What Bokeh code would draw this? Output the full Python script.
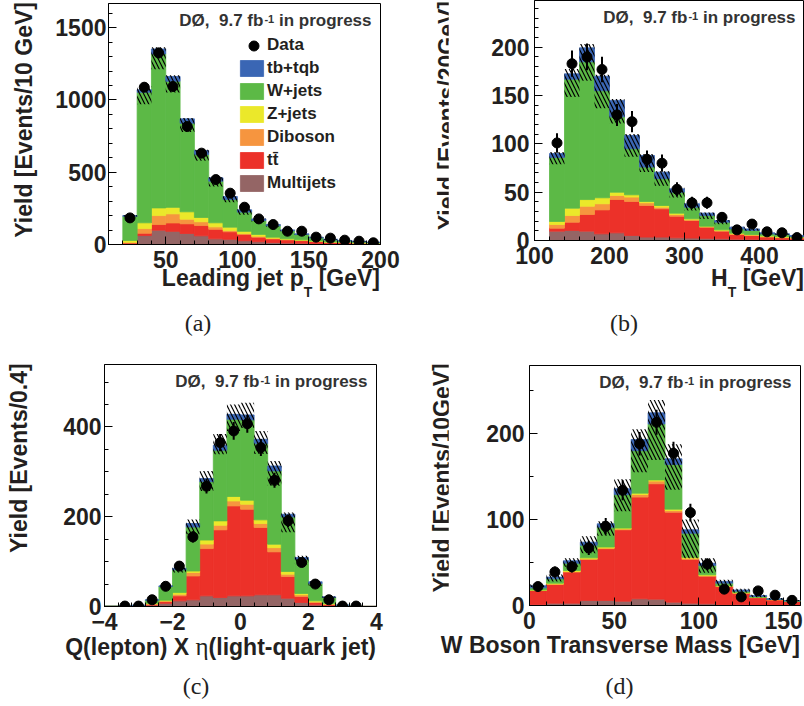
import numpy as np
from bokeh.plotting import figure
from bokeh.models import Range1d, SingleIntervalTicker, Label, Legend, LegendItem, ColumnDataSource, Div
from bokeh.layouts import row, column
from bokeh.embed import file_html
from bokeh.resources import INLINE

# ---------------- data ----------------
STACK_NAMES = ["Multijets", "tt\u0304", "Diboson", "Z+jets", "W+jets", "tb+tqb"]
STACK_COLORS = ["#946565", "#ec3129", "#f6953f", "#ebe82a", "#5cb946", "#3a66b4"]

# (a) leading jet pT, 10 GeV bins from 20 to 200
A_EDGES = list(range(20, 201, 10))
A_MJ = [5, 62, 99, 91, 76, 60, 39, 36, 26, 19, 14, 11, 9, 6, 4, 3, 2, 2]
A_TT = [5, 16, 39, 58, 67, 71, 66, 52, 44, 32, 25, 21, 18, 16, 12, 11, 9, 7]
A_DB = [5, 32, 62, 63, 32, 26, 17, 9, 6, 6, 4, 3, 2, 1, 1, 0.5, 0.5, 0.5]
A_ZJ = [13, 40, 53, 45, 51, 30, 28, 23, 15, 13, 8, 4, 3, 1, 1, 0.5, 0.5, 0.5]
A_WJ = [167, 903, 1065, 872, 613, 435, 288, 191, 133, 96, 78, 56, 37, 22, 14, 10, 8, 4]
A_TB = [5, 17, 35, 33, 30, 28, 23, 21, 16, 11, 9, 6, 5, 5, 5, 3, 3, 2]
A_DATA = [184, 1088, 1325, 1093, 816, 632, 449, 355, 258, 177, 138, 92, 92, 51, 44, 30, 23, 12]
A_UP = [3, 25, 12, 8, 6, 5, 4, 3, 3, 2, 2, 2, 1, 1, 1, 1, 1, 1]
A_DN = [8, 100, 140, 110, 90, 70, 60, 40, 35, 22, 15, 10, 7, 5, 4, 3, 2, 2]

# (b) HT, 20 GeV bins from 120 to 460
B_EDGES = list(range(120, 461, 20))
B_MJ = [9.7, 10.4, 9.7, 6.9, 7.9, 5.2, 3.5, 3.5, 2.8, 2.5, 2.2, 1.8, 1.4, 1.2, 1.0, 0.8, 0.6]
B_TT = [3.1, 8.6, 17.2, 24.8, 34.5, 35.2, 32.7, 29.3, 22.4, 18.2, 11.6, 7.9, 4.8, 4.0, 2.5, 2.0, 1.8]
B_DB = [3.8, 6.9, 8.6, 6.3, 4.2, 4.5, 2.8, 1.7, 1.7, 0.8, 0.5, 0.6, 0.7, 0.5, 0.6, 0.6, 0.5]
B_ZJ = [3.1, 7.6, 6.9, 6.2, 3.4, 2.4, 1.4, 1.7, 1.4, 0.9, 0.5, 0.7, 0.7, 0.5, 0.7, 0.7, 0.6]
B_WJ = [66.3, 133.5, 142.6, 110.8, 78.0, 47.7, 35.6, 27.8, 21.7, 12.1, 11.2, 8.0, 4.4, 4.2, 2.2, 2.1, 0.6]
B_TB = [4.0, 5.5, 14.4, 15.0, 17.0, 13.7, 12.0, 6.7, 3.5, 3.5, 2.3, 1.7, 1.8, 1.6, 1.0, 0.8, 1.1]
B_DATA = [101, 183, 190, 177, 130, 123, 84, 80, 53, 39, 39, 24, 11, 17, 9, 8, 3]
B_UP = [1.5, 5, 4, 1.5, 1.5, 1.5, 1.5, 1, 1, 1, 0.8, 0.6, 0.5, 0.5, 0.4, 0.3, 0.3]
B_DN = [11, 24, 34, 33, 24, 22, 17, 14, 9, 7, 6, 4, 2.5, 2, 1.5, 1.2, 1]

# (c) Q(lepton) x eta(light-quark jet), 0.4 bins from -4 to 4
C_EDGES = [round(-4 + 0.4 * i, 1) for i in range(21)]
C_MJ = [0.2, 0.5, 1, 3, 7, 12.6, 14.8, 23.7, 20, 23.7, 23.7, 26, 26, 18.5, 8.9, 3.7, 2, 0.5, 0.2, 0.1]
C_TT = [0.1, 0.2, 0.5, 2, 4, 11.1, 53.2, 105.3, 150.7, 200.3, 193, 149.9, 95.7, 48.3, 13.4, 5.2, 3, 0.5, 0.1, 0]
C_DB = [0, 0.1, 0.2, 1, 1.5, 3.8, 7.7, 10, 10.3, 11, 11.1, 8.9, 9.3, 5.2, 3.7, 1.6, 0.5, 0.1, 0, 0]
C_ZJ = [0.1, 0.1, 0.3, 1, 1.5, 3.5, 3.3, 9, 9.7, 10, 8.9, 8.2, 7.8, 6, 3, 2.1, 1, 0.1, 0.1, 0]
C_WJ = [0.1, 0.3, 0.5, 7, 30.5, 50.6, 98, 130, 157.3, 172, 178.8, 169.8, 163.2, 121.6, 76, 38.4, 13.5, 1.6, 0.1, 0.1]
C_TB = [0, 0.1, 0.1, 0.8, 1.5, 3.4, 7.8, 7, 11, 11, 11.2, 9.7, 11, 5.9, 4, 4, 1.5, 0.2, 0, 0]
C_DATA = [0, 1, 1, 15, 45, 90, 155, 268, 365, 391, 407, 354, 281, 191, 98, 50, 15, 1, 1, 0]
C_UP = [0, 0, 0, 0.5, 1, 2, 9, 17, 25, 22, 27, 18.5, 11, 4, 4, 2, 1, 0, 0, 0]
C_DN = [0, 0, 0.2, 1, 3, 9, 24, 28, 20, 37, 29, 33, 44, 40, 15, 9, 2, 0.5, 0, 0]

# (d) W boson transverse mass, 10 GeV bins from 0 to 160
D_EDGES = list(range(0, 161, 10))
D_MJ = [0.8, 2.7, 2.7, 5.8, 5.8, 5, 7.8, 7.4, 3.9, 2.7, 2, 1, 0.8, 0.6, 0.4, 0.3]
D_TT = [16.6, 21.7, 36.1, 47.7, 60.2, 83, 118.2, 134.1, 104.6, 50.8, 32, 21, 13.5, 8.4, 6.2, 4.3]
D_DB = [0.3, 0.6, 0.7, 0.8, 0.8, 1, 3, 3.1, 2, 1.5, 0.8, 0.5, 0.3, 0.3, 0.2, 0.2]
D_ZJ = [0.3, 1, 1.2, 1.1, 1.2, 1, 1.6, 1.4, 1.5, 1, 0.9, 0.5, 0.4, 0.2, 0.2, 0.2]
D_WJ = [2.5, 5, 8.3, 14.6, 23, 39, 49.4, 65, 52, 28, 10.8, 3, 1.7, 1, 0.3, 0.3]
D_TB = [2.5, 2, 3, 3.6, 4, 6.7, 13, 13, 6.5, 4, 2.5, 2, 1.3, 1.1, 0.5, 0.5]
D_DATA = [22, 39, 45, 67, 92, 134, 188, 213, 177, 108, 48, 19, 10, 17, 12, 6]
D_UP = [1.5, 3, 3, 7, 3, 11, 12, 15, 17, 12, 6, 2, 1.5, 1, 1, 0.5]
D_DN = [1.5, 5, 7, 13, 14, 26, 38, 55, 36, 33, 11, 6, 3, 2, 1, 1]

# ---------------- helpers ----------------
TXT = "#231f20"
HDR = "#333333"
FONT = "Liberation Sans"
SERIF = "Liberation Serif"
YW = 46      # width of the column that carries the rotated y title
AXB = 35     # room under each frame for the tick labels


def txt(p, x, y, text, size, align="left", baseline="middle", color=TXT):
    p.add_layout(Label(x=x, y=y, x_units="screen", y_units="screen", text=text,
                       text_font=FONT, text_font_style="bold", text_font_size=f"{size}px",
                       text_color=color, text_align=align, text_baseline=baseline))


def make_fig(edges, comps, data, up, dn, xr, yr, fw, fh, left, right, top,
             xint, xminor, yint, yminor, ystand, legend=False):
    W = left + fw + right
    H = top + fh + AXB
    p = figure(width=W, height=H, x_range=Range1d(*xr), y_range=Range1d(*yr),
               output_backend="svg", toolbar_location=None, margin=0,
               min_border_left=left, min_border_right=right,
               min_border_top=top, min_border_bottom=AXB)
    p.grid.visible = False
    p.outline_line_color = "black"
    p.outline_line_width = 1
    p.background_fill_color = "white"
    p.border_fill_color = "white"

    e = np.array(edges, dtype=float)
    lo, hi = e[:-1], e[1:]
    centers = (lo + hi) / 2
    cols = {f"s{i}": np.array(c, dtype=float) for i, c in enumerate(comps)}
    src = ColumnDataSource(dict(x=centers, w=hi - lo, **cols))
    rs = p.vbar_stack([f"s{i}" for i in range(6)], x="x", width="w", source=src,
                      color=STACK_COLORS, line_width=0.8)

    total = np.sum(np.array(comps, dtype=float), axis=0)
    p.quad(left=lo, right=hi, bottom=total - np.array(dn, float), top=total + np.array(up, float),
           fill_color=None, line_color=None, hatch_pattern="\\", hatch_color="black",
           hatch_scale=8, hatch_weight=1.2)

    d = np.array(data, dtype=float)
    m = d > 0
    err = np.sqrt(d)
    p.segment(x0=centers[m], y0=(d - err)[m], x1=centers[m], y1=(d + err)[m],
              line_color="black", line_width=2)
    dr = p.scatter(centers[m], d[m], size=10, color="black")

    for ax in (p.xaxis[0], p.yaxis[0]):
        ax.major_label_text_font = FONT
        ax.major_label_text_font_style = "bold"
        ax.major_label_text_font_size = "23px"
        ax.major_label_text_color = TXT
        ax.major_tick_in = 8
        ax.major_tick_out = 0
        ax.minor_tick_in = 4
        ax.minor_tick_out = 0
        ax.axis_line_color = "black"
        ax.major_tick_line_color = "black"
        ax.minor_tick_line_color = "black"
    p.xaxis.ticker = SingleIntervalTicker(interval=xint, num_minor_ticks=xminor)
    p.yaxis.ticker = SingleIntervalTicker(interval=yint, num_minor_ticks=yminor)
    p.yaxis.major_label_standoff = ystand
    p.xaxis.major_label_standoff = 6

    # "DØ, 9.7 fb-1 in progress" header, right aligned 9 px inside the frame
    x_end = fw - 9
    txt(p, x_end, fh - 17, "in progress", 17, align="right", color=HDR)
    x_sup = x_end - 0.278 * 17 - 5.446 * 17
    txt(p, x_sup, fh - 15, "-1", 11, align="right", color=HDR)
    txt(p, x_sup - 0.889 * 11 - 1, fh - 17, "D\u00d8,\u00a0 9.7 fb", 17, align="right", color=HDR)

    if legend:
        leg1 = Legend(items=[LegendItem(label="Data", renderers=[dr])], location=(133, 186.5),
                      glyph_width=25, glyph_height=25, label_height=23, label_standoff=1)
        leg2 = Legend(items=[LegendItem(label=STACK_NAMES[i], renderers=[rs[i]])
                             for i in reversed(range(6))], location=(129, 49.5),
                      glyph_width=29, glyph_height=20, label_height=23, label_standoff=1)
        for lg in (leg1, leg2):
            lg.label_text_font = FONT
            lg.label_text_font_style = "bold"
            lg.label_text_font_size = "17px"
            lg.label_text_color = TXT
            lg.spacing = 0
            lg.padding = 0
            lg.margin = 0
            lg.border_line_alpha = 0
            lg.background_fill_alpha = 0
            p.add_layout(lg)
    return p


def span(inner, top, size=23, font=FONT, weight="bold", left=None, right=None,
         width=None, align=None, color=TXT):
    s = (f"position:absolute;top:{top:.1f}px;white-space:nowrap;line-height:1;"
         f"font-family:'{font}';font-weight:{weight};font-size:{size}px;color:{color};z-index:10;")
    if left is not None:
        s += f"left:{left:.1f}px;"
    if right is not None:
        s += f"right:{right:.1f}px;"
    if width is not None:
        s += f"width:{width}px;"
    if align:
        s += f"text-align:{align};"
    return f'<span style="{s}">{inner}</span>'


def sans_top(baseline, size=23):
    return baseline - 0.8465 * size


def serif_top(baseline, size=24):
    return baseline - 0.8375 * size


def ydiv(text, X, Ytop, H):
    s = (f"position:absolute;left:0;top:0;transform-origin:0 0;"
         f"transform:translate({X}px,{Ytop}px) rotate(-90deg) translateX(-100%);"
         f"white-space:nowrap;line-height:1;font-family:'{FONT}';font-weight:bold;"
         f"font-size:23px;color:{TXT};")
    html = f'<div style="position:relative;width:{YW}px;height:{H}px;"><span style="{s}">{text}</span></div>'
    return Div(text=html, width=YW, height=H, margin=0, styles={"overflow": "visible"})


def xdiv(title_html, title_right, title_base, cap, cap_cx, cap_cy, H):
    parts = span(title_html, sans_top(title_base), right=title_right)
    parts += span(cap, serif_top(cap_cy + 0.24 * 24), size=24, font=SERIF, weight="normal",
                  left=cap_cx - 201, width=402, align="center", color="#222222")
    html = f'<div style="position:relative;width:402px;height:{H}px;">{parts}</div>'
    return Div(text=html, width=402, height=H, margin=0, styles={"overflow": "visible"})


SUB = '<span style="position:relative;top:11px;font-size:14px;">T</span>'

# ---------------- panels (block origin = top-left of each quarter) ----------------
fa = make_fig(A_EDGES, [A_MJ, A_TT, A_DB, A_ZJ, A_WJ, A_TB], A_DATA, A_UP, A_DN,
              (10, 200), (0, 1667), 272, 241, 108 - YW, 22, 3, 50, 5, 500, 5, 2, legend=True)
fb = make_fig(B_EDGES, [B_MJ, B_TT, B_DB, B_ZJ, B_WJ, B_TB], B_DATA, B_UP, B_DN,
              (100, 460), (0, 248.4), 270, 240, 132 - YW, 0, 0, 100, 5, 50, 5, 5)
fc = make_fig(C_EDGES, [C_MJ, C_TT, C_DB, C_ZJ, C_WJ, C_TB], C_DATA, C_UP, C_DN,
              (-4, 4), (0, 539), 272, 242, 104 - YW, 26, 19, 2, 5, 200, 4, 3)
fd = make_fig(D_EDGES, [D_MJ, D_TT, D_DB, D_ZJ, D_WJ, D_TB], D_DATA, D_UP, D_DN,
              (0, 160), (0, 279), 271, 240, 127 - YW, 4, 20, 50, 5, 100, 2, 5)

ha, hb, hc, hd = fa.height, fb.height, fc.height, fd.height

blk_a = column(row(ydiv("Yield [Events/10 GeV]", 13, 2, ha), fa),
               xdiv(f"Leading jet p{SUB} [GeV]", 22, 286 - ha, "(a)", 198, 325 - ha, 345 - ha))
blk_b = column(row(ydiv("Yield [Events/20GeV]", 34, 1, hb), fb),
               xdiv(f"H{SUB} [GeV]", 0, 286.7 - hb, "(b)", 222, 325 - hb, 345 - hb))
blk_c = column(row(ydiv("Yield [Events/0.4]", 8, 18.3, hc), fc),
               xdiv("Q(lepton) X <span style=\"font-family:'Liberation Serif';font-weight:normal;"
                    "font-size:25px;\">\u03b7</span>(light-quark jet)",
                    26, 308.3 - hc, "(c)", 196, 343 - hc, 361 - hc))
blk_d = column(row(ydiv("Yield [Events/10GeV]", 29, 18.3, hd), fd),
               xdiv("W Boson Transverse Mass [GeV]", 4, 308 - hd, "(d)", 217.5, 343 - hd, 361 - hd))

layout = column(row(blk_a, blk_b), row(blk_c, blk_d))
open("out.html", "w").write(file_html(layout, INLINE))
